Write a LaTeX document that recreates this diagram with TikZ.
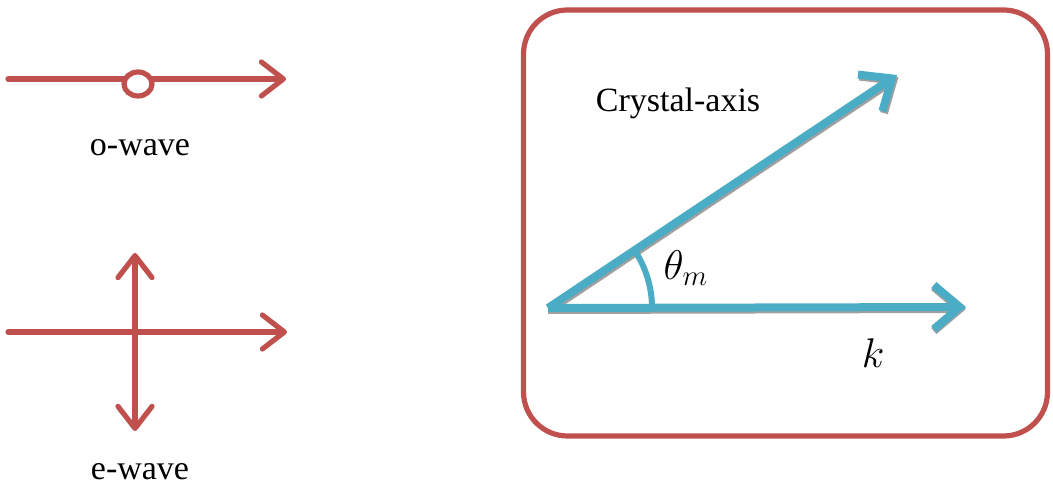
\documentclass[tikz,border=0pt]{standalone}
\usepackage{fontspec}
\setmainfont{Liberation Serif}
\usetikzlibrary{arrows.meta,positioning,shapes.geometric,calc}
\definecolor{wavered}{RGB}{192,80,77}
\definecolor{axisblue}{RGB}{75,172,198}
\definecolor{shadegray}{RGB}{160,160,160}
\begin{document}
\begin{tikzpicture}[x=0.5pt,y=-0.5pt,
  redline/.style={wavered,line width=2.6pt,line cap=round,line join=round},
  redtip/.style={redline,-{Straight Barb[length=11pt,width=17pt,line width=2.6pt,round]}},
  bluetip/.style={axisblue,line width=4pt,line join=round,
    -{Straight Barb[length=13pt,width=22pt,line width=4pt]}},
  shade/.style={shadegray,line width=4pt,line join=round,
    -{Straight Barb[length=13pt,width=22pt,line width=4pt]}},
  lbl/.style={font=\fontsize{17}{20}\selectfont,inner sep=1pt}
]
  \useasboundingbox (0,0) rectangle (1053,490);

  % o-wave
  \coordinate (o-start) at (8,79);
  \coordinate (o-end) at (286,79);
  \draw[redtip] (o-start) -- (o-end);
  \node[draw=wavered,line width=2.6pt,fill=white,ellipse,minimum width=14pt,
    minimum height=12pt,inner sep=0pt] (o-dot) at (138,84) {};
  \node[lbl] (o-label) at (140,148) {o-wave};

  % e-wave
  \coordinate (e-start) at (8,332);
  \coordinate (e-end) at (287,332);
  \coordinate (e-top) at (135,253);
  \coordinate (e-bot) at (135,431);
  \draw[redtip] (e-start) -- (e-end);
  \draw[redline,{Straight Barb[length=11pt,width=17pt,line width=2.6pt,round]}-{Straight Barb[length=11pt,width=17pt,line width=2.6pt,round]}] (e-top) -- (e-bot);
  \node[lbl] (e-label) at (140,472) {e-wave};

  % crystal box
  \node[draw=wavered,line width=2.6pt,rounded corners=22pt,minimum width=262pt,
    minimum height=213pt] (box) at (785.5,223) {};

  % axes
  \coordinate (origin) at (548,308);
  \coordinate (axis-tip) at (897,75);
  \coordinate (k-tip) at (966,307);
  \draw[shade] ($(origin)+(1.5,2)$) -- ($(axis-tip)+(1.5,2)$);
  \draw[bluetip] (origin) -- (axis-tip);
  \draw[shade] ($(origin)+(0,2)$) -- ($(k-tip)+(0,2)$);
  \draw[bluetip] (origin) -- (k-tip);
  \draw[axisblue,line width=3pt] ($(origin)+(104,0)$) arc[start angle=0,end angle=-33.7,radius=104];

  \node[lbl] (axis-label) at (678,103) {Crystal-axis};
  \node[lbl,font=\fontsize{21}{24}\selectfont] (theta) at (686,268) {$\theta_m$};
  \node[lbl,font=\fontsize{21}{24}\selectfont] (k-label) at (873,353) {$k$};
\end{tikzpicture}
\end{document}
